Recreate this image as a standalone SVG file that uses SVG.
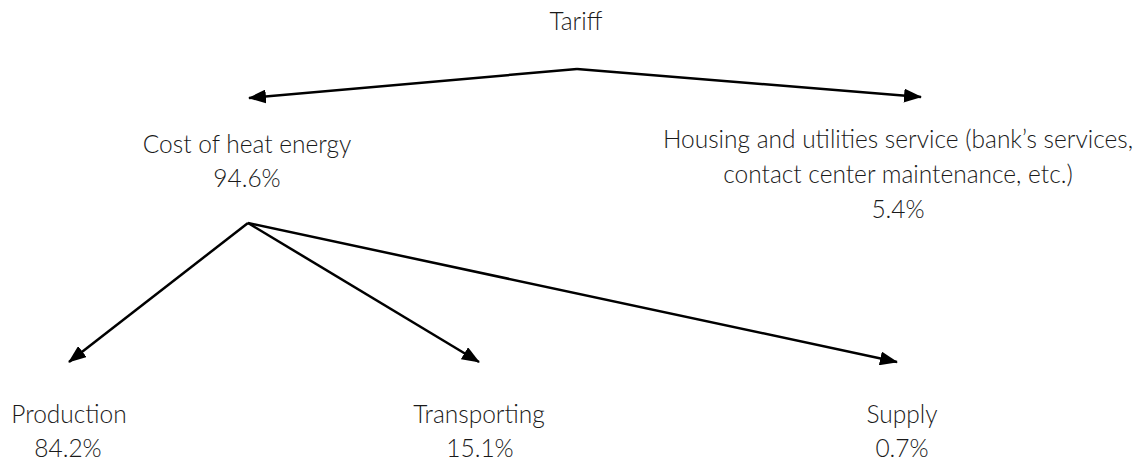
<svg xmlns="http://www.w3.org/2000/svg" width="1145" height="461" viewBox="0 0 1145 461">
<style>
text{font-family:Lato,"Liberation Sans",sans-serif;font-size:24.5px;font-weight:300;fill:#1a1a1a;text-anchor:middle}
.c{stroke:#000;stroke-width:2.5;fill:none;marker-end:url(#ah)}
</style>
<defs>
<marker id="ah" markerUnits="userSpaceOnUse" markerWidth="18" markerHeight="14" refX="17" refY="7" orient="auto" viewBox="0 0 18 14">
<path d="M0,0 L18,7 L0,14 z" fill="#000"/>
</marker>
</defs>
<rect width="1145" height="461" fill="#fff"/>
<g id="connectors">
<path class="c" d="M577,69 L249,98"/>
<path class="c" d="M577,69 L921,97"/>
<path class="c" d="M248,223 L69,362"/>
<path class="c" d="M248,223 L479,362"/>
<path class="c" d="M248,223 L897,362"/>
</g>
<g id="tariff"><text x="576" y="30">Tariff</text></g>
<g id="cost"><text x="247" y="153">Cost of heat energy</text><text x="247" y="187">94.6%</text></g>
<g id="housing"><text x="898" y="148">Housing and utilities service (bank’s services,</text><text x="898" y="183">contact center maintenance, etc.)</text><text x="898" y="218">5.4%</text></g>
<g id="production"><text x="69" y="423">Production</text><text x="68" y="457">84.2%</text></g>
<g id="transporting"><text x="479" y="423">Transporting</text><text x="480" y="457">15.1%</text></g>
<g id="supply"><text x="902" y="423">Supply</text><text x="902" y="457">0.7%</text></g>
</svg>
